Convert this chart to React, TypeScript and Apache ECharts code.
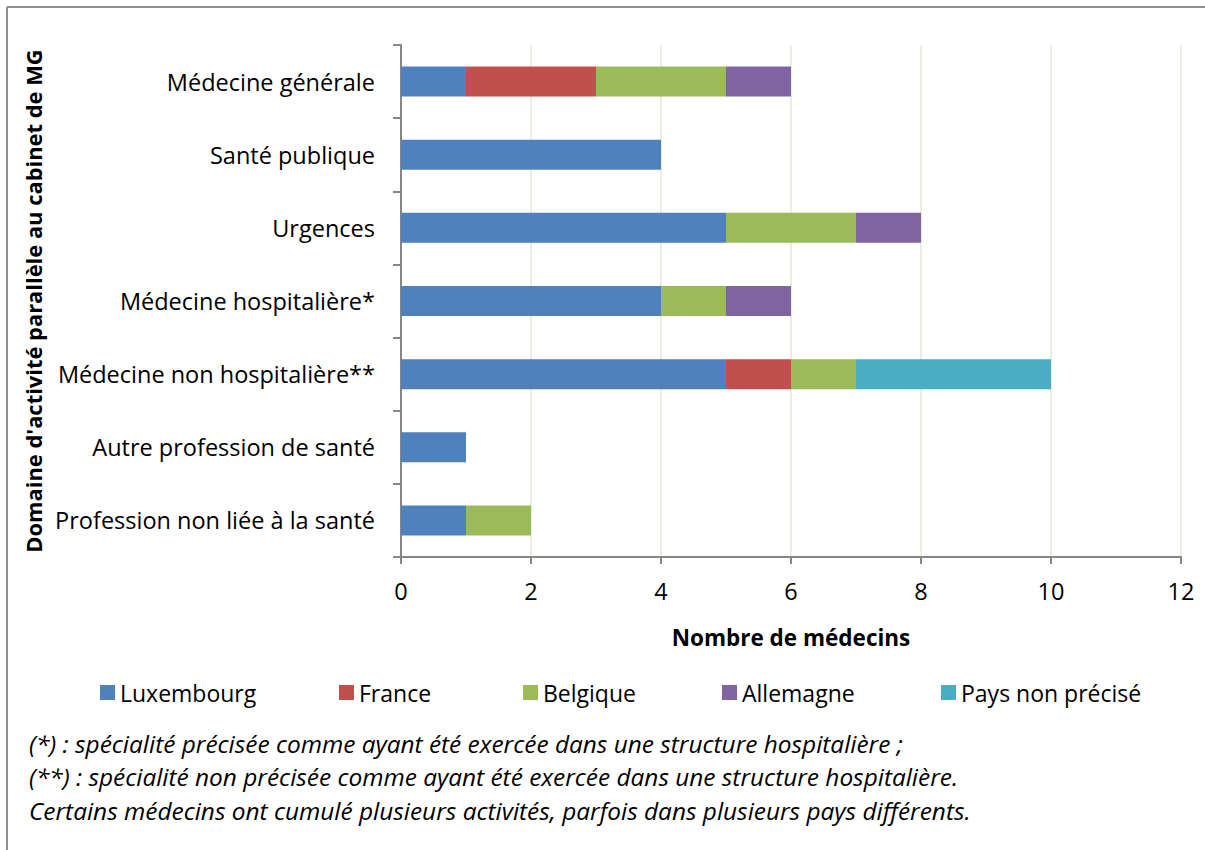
import { useEffect, useRef } from "react";
import * as echarts from "echarts";

const categories = [
  "Médecine générale",
  "Santé publique",
  "Urgences",
  "Médecine hospitalière*",
  "Médecine non hospitalière**",
  "Autre profession de santé",
  "Profession non liée à la santé",
];

const seriesNames = ["Luxembourg", "France", "Belgique", "Allemagne", "Pays non précisé"];
const luxembourg = [1, 4, 5, 4, 5, 1, 1];
const france = [2, 0, 0, 0, 1, 0, 0];
const belgique = [2, 0, 2, 1, 1, 0, 1];
const allemagne = [1, 0, 1, 1, 0, 0, 0];
const paysNonPrecise = [0, 0, 0, 0, 3, 0, 0];
const colors = ["#4F81BD", "#C0504D", "#9BBB59", "#8064A2", "#4BACC6"];
const legendLeft = [95, 334, 518, 717, 936];

const xTitle = "Nombre de médecins";
const yTitle = "Domaine d'activité parallèle au cabinet de MG";
const notes = [
  "(*) : spécialité précisée comme ayant été exercée dans une structure hospitalière ;",
  "(**) : spécialité non précisée comme ayant été exercée dans une structure hospitalière.",
  "Certains médecins ont cumulé plusieurs activités, parfois dans plusieurs pays différents.",
];

const FONT = "Open Sans";

export default function App() {
  const ref = useRef<HTMLDivElement>(null);
  useEffect(() => {
    if (!ref.current) return;
    const chart = echarts.init(ref.current, null, { renderer: "svg" });
    const values = [luxembourg, france, belgique, allemagne, paysNonPrecise];
    chart.setOption({
      animation: false,
      backgroundColor: "#FFFFFF",
      textStyle: { fontFamily: FONT, color: "#000" },
      grid: { left: 401, right: 24, top: 45, bottom: 293, containLabel: false },
      xAxis: {
        type: "value",
        min: 0,
        max: 12,
        interval: 2,
        name: xTitle,
        nameLocation: "middle",
        nameGap: 69,
        nameTextStyle: { fontFamily: FONT, fontSize: 22.5, fontWeight: "bold", color: "#000" },
        axisLine: { show: true, lineStyle: { color: "#868686", width: 2 } },
        axisTick: { show: true, length: 7, lineStyle: { color: "#868686", width: 2 } },
        axisLabel: { margin: 22, fontSize: 23.5, color: "#000", fontFamily: FONT },
        splitLine: { show: true, lineStyle: { color: "#EEECE1", width: 2 } },
      },
      yAxis: {
        type: "category",
        data: categories,
        inverse: true,
        name: yTitle,
        nameLocation: "middle",
        nameRotate: 90,
        nameGap: 354,
        nameTextStyle: { fontFamily: FONT, fontSize: 21.9, fontWeight: "bold", color: "#000" },
        axisLine: { show: true, lineStyle: { color: "#868686", width: 2 } },
        axisTick: { show: true, length: 8, lineStyle: { color: "#868686", width: 2 } },
        axisLabel: { margin: 26, fontSize: 23.5, color: "#000", fontFamily: FONT },
        splitLine: { show: false },
      },
      legend: seriesNames.map((n, i) => ({
        data: [n],
        left: legendLeft[i],
        top: 676,
        itemWidth: 15,
        itemHeight: 15,
        icon: "rect",
        itemGap: 0,
        textStyle: { fontSize: 23, color: "#000", fontFamily: FONT, padding: [0, 0, 0, 0] },
      })),
      series: seriesNames.map((n, i) => ({
        name: n,
        type: "bar",
        stack: "total",
        barWidth: "41%",
        data: values[i],
        itemStyle: { color: colors[i] },
      })),
      graphic: [
        { type: "line", shape: { x1: 7, y1: 7, x2: 1205, y2: 7 }, style: { stroke: "#8E8E8E", lineWidth: 2 } },
        { type: "line", shape: { x1: 7, y1: 7, x2: 7, y2: 850 }, style: { stroke: "#8E8E8E", lineWidth: 2 } },
        ...notes.map((t, i) => ({
          type: "text",
          left: 29,
          top: 731 + i * 33.5,
          style: { text: t, fontFamily: FONT, fontSize: 24.4, fontStyle: "italic", fill: "#000" },
        })),
      ],
    });
    return () => chart.dispose();
  }, []);
  return (
    <div style={{ position: "absolute", left: 0, top: 0, width: 1205, height: 850 }}>
      <div ref={ref} style={{ width: 1205, height: 850 }} />
    </div>
  );
}
